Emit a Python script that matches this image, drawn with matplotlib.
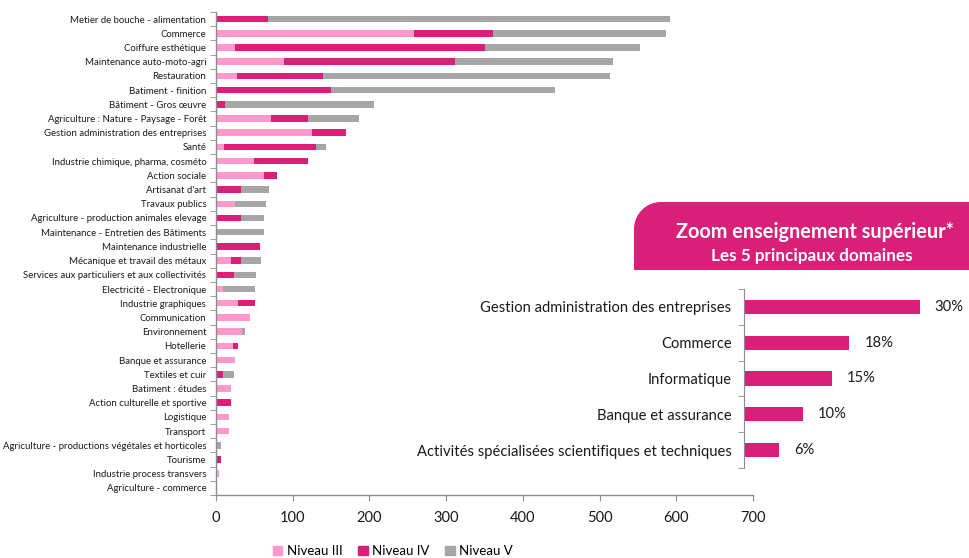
import matplotlib
matplotlib.use("Agg")
import matplotlib.pyplot as plt
from matplotlib.path import Path
from matplotlib.patches import PathPatch, Patch
import numpy as np

categories = [
    "Metier de bouche - alimentation", "Commerce", "Coiffure esthétique",
    "Maintenance auto-moto-agri", "Restauration", "Batiment - finition",
    "Bâtiment - Gros œuvre", "Agriculture : Nature - Paysage - Forêt",
    "Gestion administration des entreprises", "Santé",
    "Industrie chimique, pharma, cosméto", "Action sociale", "Artisanat d'art",
    "Travaux publics", "Agriculture - production animales elevage",
    "Maintenance - Entretien des Bâtiments", "Maintenance industrielle",
    "Mécanique et travail des métaux",
    "Services aux particuliers et aux collectivités",
    "Electricité - Electronique", "Industrie graphiques", "Communication",
    "Environnement", "Hotellerie", "Banque et assurance", "Textiles et cuir",
    "Batiment : études", "Action culturelle et sportive", "Logistique",
    "Transport", "Agriculture - productions végétales et horticoles",
    "Tourisme", "Industrie process transvers", "Agriculture - commerce",
]
niveau_iii = [0, 258, 25, 88, 28, 0, 0, 72, 125, 10, 49, 62, 0, 25, 0, 0, 0,
              19, 0, 9, 29, 44, 34, 22, 25, 0, 20, 0, 17, 17, 0, 0, 4, 0]
niveau_iv = [68, 103, 325, 223, 111, 150, 12, 48, 44, 120, 71, 18, 32, 0, 32, 0,
             58, 13, 24, 0, 22, 0, 0, 7, 0, 9, 0, 19, 0, 0, 0, 6, 0, 0]
niveau_v = [524, 226, 203, 207, 374, 292, 194, 66, 0, 13, 0, 0, 37, 40, 31, 62,
            0, 27, 28, 42, 0, 0, 4, 0, 0, 15, 0, 0, 0, 0, 7, 0, 0, 0]
series_names = ["Niveau III", "Niveau IV", "Niveau V"]
x_ticks = [0, 100, 200, 300, 400, 500, 600, 700]

zoom_labels = ["Gestion administration des entreprises", "Commerce",
               "Informatique", "Banque et assurance",
               "Activités spécialisées scientifiques et techniques"]
zoom_values = [30, 18, 15, 10, 6]
zoom_text = ["30%", "18%", "15%", "10%", "6%"]
banner_title = "Zoom enseignement supérieur*"
banner_sub = "Les 5 principaux domaines"

C3 = "#FF99CC"
C4 = "#DA1F79"
C5 = "#A6A6A6"
AXC = "#8C8C8C"
TXT = "#1a1a1a"
plt.rcParams["font.family"] = ["Lato", "DejaVu Sans"]

W, H = 969, 558
fig = plt.figure(figsize=(W / 100, H / 100), dpi=100)


def fx(px):
    return px / W


def fy(py):
    return 1 - py / H


# ---------------- main chart ----------------
ax = fig.add_axes([fx(216), fy(495), fx(753) - fx(216), fy(12) - fy(495)])
y = np.arange(len(categories))
iii = np.array(niveau_iii, float)
iv = np.array(niveau_iv, float)
v = np.array(niveau_v, float)
bh = 0.46
ax.barh(y, iii, height=bh, color=C3, label=series_names[0])
ax.barh(y, iv, left=iii, height=bh, color=C4, label=series_names[1])
ax.barh(y, v, left=iii + iv, height=bh, color=C5, label=series_names[2])
ax.set_ylim(len(categories) - 0.5, -0.5)
ax.set_xlim(0, 700)
ax.set_xticks(x_ticks)
ax.set_xticklabels([str(t) for t in x_ticks], fontsize=10.5, color=TXT)
ax.set_yticks(y)
ax.set_yticklabels(categories, fontsize=6.9, color=TXT)
ax.set_yticks(np.arange(len(categories) + 1) - 0.5, minor=True)
ax.tick_params(axis="y", which="major", length=0, pad=7)
ax.tick_params(axis="y", which="minor", length=4, color=AXC, direction="out")
ax.tick_params(axis="x", which="major", length=4.5, color=AXC, pad=7)
for s in ["top", "right"]:
    ax.spines[s].set_visible(False)
for s in ["left", "bottom"]:
    ax.spines[s].set_color(AXC)
    ax.spines[s].set_linewidth(1.0)

handles = [Patch(color=c) for c in (C3, C4, C5)]
fig.legend(handles, series_names, loc="center",
           bbox_to_anchor=(fx(393), fy(551)), ncol=3, frameon=False,
           fontsize=9.5, handlelength=0.7, handleheight=0.7,
           handletextpad=0.35, columnspacing=1.2, borderpad=0)

# ---------------- banner ----------------
x0, x1, yt, yb, r = 634, 969, 202, 270, 27
k = 0.5523
pts = [(x0, yb), (x0, yt + r), (x0, yt + r - k * r), (x0 + r - k * r, yt),
       (x0 + r, yt), (x1, yt), (x1, yb), (x0, yb)]
codes = [Path.MOVETO, Path.LINETO, Path.CURVE4, Path.CURVE4, Path.CURVE4,
         Path.LINETO, Path.LINETO, Path.CLOSEPOLY]
path = Path([(fx(a), fy(b)) for a, b in pts], codes)
fig.patches.append(PathPatch(path, transform=fig.transFigure,
                             facecolor=C4, edgecolor="none"))
fig.text(fx(815), fy(232), banner_title, color="white", fontsize=14.3,
         fontweight="bold", ha="center", va="center")
fig.text(fx(812), fy(256), banner_sub, color="white", fontsize=12.3,
         fontweight="bold", ha="center", va="center")

# ---------------- inset chart ----------------
ax2 = fig.add_axes([fx(744), fy(468), fx(969) - fx(744), fy(289) - fy(468)])
y2 = np.arange(len(zoom_labels))
ax2.barh(y2, zoom_values, height=0.4, color=C4)
ax2.set_ylim(len(zoom_labels) - 0.5, -0.5)
ax2.set_xlim(0, 225 / 5.85)
ax2.set_yticks(y2)
ax2.set_yticklabels(zoom_labels, fontsize=10.6, color=TXT)
ax2.set_yticks(np.arange(len(zoom_labels) + 1) - 0.5, minor=True)
ax2.tick_params(axis="y", which="major", length=0, pad=9)
ax2.tick_params(axis="y", which="minor", length=4, color=AXC)
ax2.set_xticks([])
for s in ["top", "right", "bottom"]:
    ax2.spines[s].set_visible(False)
ax2.spines["left"].set_color(AXC)
ax2.patch.set_alpha(0)
for i, (val, t) in enumerate(zip(zoom_values, zoom_text)):
    ax2.annotate(t, (val, i), xytext=(11, 0), textcoords="offset points",
                 va="center", ha="left", fontsize=10.6, color=TXT)

fig.savefig("out.png", dpi=100)
